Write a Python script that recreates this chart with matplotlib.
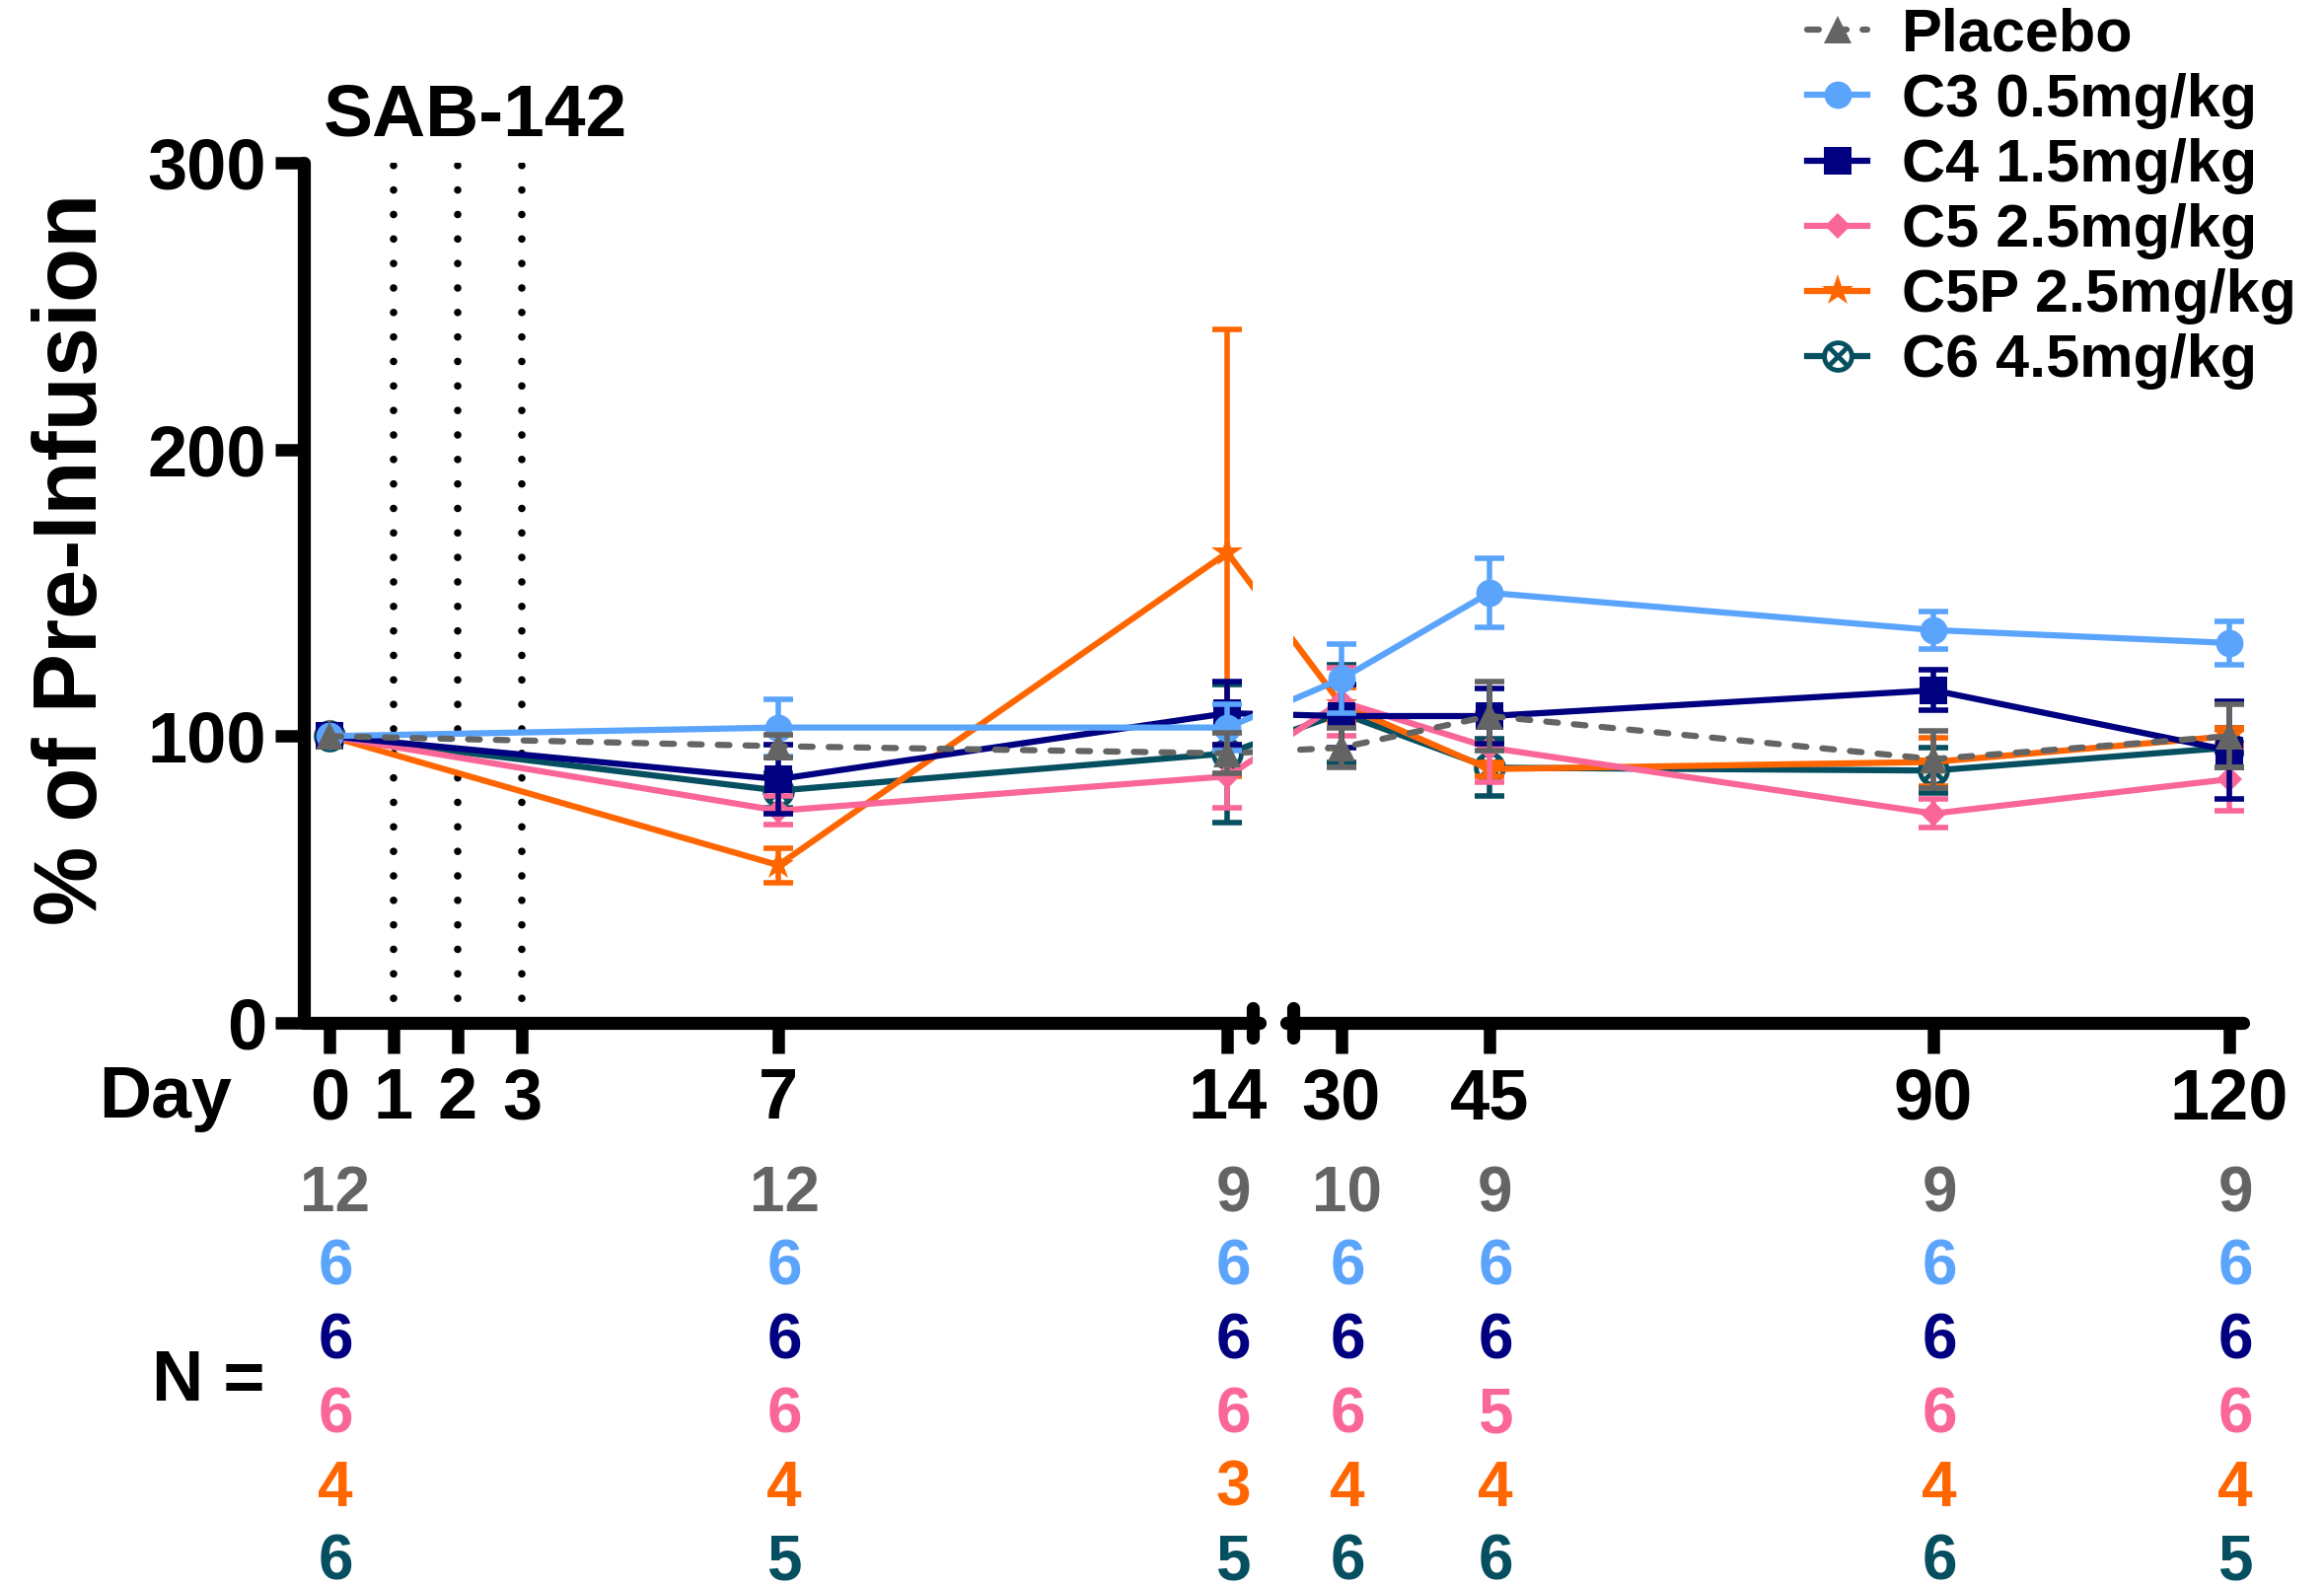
import numpy as np
import matplotlib
matplotlib.use("Agg")
import matplotlib.pyplot as plt
import matplotlib.transforms as mtransforms
from matplotlib.lines import Line2D
from matplotlib.legend_handler import HandlerTuple
from matplotlib.ticker import NullLocator

plt.rcParams["font.family"] = ["Liberation Sans", "DejaVu Sans"]
plt.rcParams["font.weight"] = "bold"

# ---------------------------------------------------------
# data
# ---------------------------------------------------------
days = [0, 7, 14, 30, 45, 90, 120]

placebo_mean = [100, 96.5, 94, 96, 107, 92, 100]
placebo_sem = [0, 4, 7, 7, 12, 10, 11]
c3_mean = [100, 103, 103, 120, 150, 137, 132.5]
c3_sem = [0, 10, 8, 12, 12, 6.5, 7.5]
c4_mean = [100, 85, 108, 107, 107, 116, 95]
c4_sem = [0, 12, 11, 11, 9.5, 7, 17]
c5_mean = [100, 74, 86, 112, 96, 73, 85]
c5_sem = [0, 5, 11, 12, 12, 5, 11]
c5p_mean = [100, 55, 164, 111, 88.5, 91, 100]
c5p_sem = [0, 6, 78, 6, 2.5, 8.5, 3]
c6_mean = [100, 81, 94, 108, 89, 88, 96]
c6_sem = [0, 6, 24, 17, 10, 8, 7]

# number of subjects per group and day
n_placebo = [12, 12, 9, 10, 9, 9, 9]
n_c3 = [6, 6, 6, 6, 6, 6, 6]
n_c4 = [6, 6, 6, 6, 6, 6, 6]
n_c5 = [6, 6, 6, 6, 5, 6, 6]
n_c5p = [4, 4, 3, 4, 4, 4, 4]
n_c6 = [6, 5, 5, 6, 6, 6, 5]

labels = ["Placebo", "C3 0.5mg/kg", "C4 1.5mg/kg", "C5 2.5mg/kg",
          "C5P 2.5mg/kg", "C6 4.5mg/kg"]
day_ticks = [0, 1, 2, 3, 7, 14, 30, 45, 90, 120]
dosing_days = [1, 2, 3]

GRAY = "#646464"
LBLUE = "#5BA4FC"
NAVY = "#000080"
PINK = "#FA6698"
ORANGE = "#FF6600"
TEAL = "#064F60"

LW = 4.5


# ---------------------------------------------------------
# broken day axis: 0-14 wide, 30-120 compressed
# ---------------------------------------------------------
GAP = 1.78      # visual width of the 14 -> 30 jump (in early-day units)
LATE = 0.1538   # one late day = this many early days
_d = [-100, 14, 30, 1000]
_p = [-100, 14, 14 + GAP, 14 + GAP + 970 * LATE]


def fwd(d):
    return np.interp(np.asarray(d, float), _d, _p)


def inv(p):
    return np.interp(np.asarray(p, float), _p, _d)


fig = plt.figure(figsize=(23.56, 16.10), dpi=100)
ax = fig.add_axes([0.1307, 0.3559, 0.8345, 0.5416])
ax.set_xscale("function", functions=(fwd, inv))
ax.set_xlim(-0.4, 121.4)
ax.set_ylim(0, 300)

# dosing days
for d in dosing_days:
    ax.axvline(d, ymin=0, ymax=1, color="black", lw=5.5,
               linestyle=(0, (0.001, 3.25)), dash_capstyle="round", zorder=1)

# ---------------------------------------------------------
# series
# ---------------------------------------------------------
series = [
    # label, mean, sem, color, marker, marker size, linestyle
    (labels[5], c6_mean, c6_sem, TEAL, "o", 20, "-"),
    (labels[4], c5p_mean, c5p_sem, ORANGE, "*", 24, "-"),
    (labels[3], c5_mean, c5_sem, PINK, "D", 13.5, "-"),
    (labels[2], c4_mean, c4_sem, NAVY, "s", 20, "-"),
    (labels[1], c3_mean, c3_sem, LBLUE, "o", 20, "-"),
    (labels[0], placebo_mean, placebo_sem, GRAY, "^", 20, (0, (1.9, 2.6))),
]

handles = {}
for i, (lab, mean, sem, col, mk, ms, ls) in enumerate(series):
    z = 3 + i
    ax.errorbar(days[1:], mean[1:], yerr=sem[1:], fmt="none", ecolor=col,
                elinewidth=4, capsize=11, capthick=4, zorder=z)
    if lab.startswith("C6"):
        ax.plot(days, mean, color=col, lw=LW, marker=mk, ms=ms,
                mfc="white", mec=col, mew=3.5, zorder=z)
        ax.plot(days, mean, linestyle="none", marker="x", ms=13,
                mec=col, mew=3.5, zorder=z)
        handles[lab] = (
            Line2D([], [], color=col, lw=LW, marker=mk, ms=ms, mfc="white",
                   mec=col, mew=3.5),
            Line2D([], [], linestyle="none", marker="x", ms=13, mec=col, mew=3.5),
        )
    else:
        ax.plot(days, mean, color=col, lw=LW, linestyle=ls,
                dash_capstyle="round", marker=mk, ms=ms, mfc=col, mec=col,
                mew=0, zorder=z)
        handles[lab] = Line2D([], [], color=col, lw=LW, linestyle=ls,
                              dash_capstyle="round", marker=mk, ms=ms,
                              mfc=col, mec=col, mew=0)

# white gap where the axis is broken
ax.axvspan(17.55, 23.22, color="white", lw=0, zorder=20)

# ---------------------------------------------------------
# axes styling
# ---------------------------------------------------------
for s in ["top", "right", "bottom"]:
    ax.spines[s].set_visible(False)
ax.spines["left"].set_linewidth(9.5)
ax.spines["left"].set_capstyle("round")

xtr = ax.get_xaxis_transform()
ax.plot([-0.4, 18.52], [0, 0], color="black", lw=9.5, solid_capstyle="round",
        transform=xtr, clip_on=False, zorder=25)
ax.plot([22.25, 121.4], [0, 0], color="black", lw=9.5, solid_capstyle="round",
        transform=xtr, clip_on=False, zorder=25)
for bx in [17.55, 23.22]:
    ax.plot([bx, bx], [-0.017, 0.017], color="black", lw=9.5,
            solid_capstyle="round", transform=xtr, clip_on=False, zorder=26)

ax.set_xticks(day_ticks)
ax.set_xticklabels([str(d) for d in day_ticks])
ax.xaxis.set_minor_locator(NullLocator())
ax.set_yticks([0, 100, 200, 300])
ax.yaxis.set_minor_locator(NullLocator())
ax.tick_params(axis="both", direction="out", width=9, labelsize=52,
               colors="black")
ax.tick_params(axis="x", length=22, pad=10)
ax.tick_params(axis="y", length=21, pad=6)

fig.text(0.0318, 0.6478, "% of Pre-Infusion", rotation=90, fontsize=65,
         ha="center", va="center")
fig.text(0.1392, 0.9149, "SAB-142", fontsize=54, ha="left", va="baseline")
fig.text(0.0424, 0.2963, "Day", fontsize=53, ha="left", va="baseline")
fig.text(0.0654, 0.1180, "N =", fontsize=52, ha="left", va="baseline")

# ---------------------------------------------------------
# N table under the axis
# ---------------------------------------------------------
n_rows = [n_placebo, n_c3, n_c4, n_c5, n_c5p, n_c6]
row_colors = [GRAY, LBLUE, NAVY, PINK, ORANGE, TEAL]
ntr = mtransforms.blended_transform_factory(ax.transData, fig.transFigure) \
    + mtransforms.ScaledTranslation(0.06, 0, fig.dpi_scale_trans)
for r, (vals, col) in enumerate(zip(n_rows, row_colors)):
    y = 0.2370 - r * 0.04630
    for d, n in zip(days, vals):
        ax.text(d, y, str(n), transform=ntr, ha="center", va="baseline",
                fontsize=46, color=col, clip_on=False)

# ---------------------------------------------------------
# legend
# ---------------------------------------------------------
leg_handles = [handles[l] for l in labels]
fig.legend(leg_handles, labels, loc="upper left",
           bbox_to_anchor=(0.7776, 0.9953), frameon=False, fontsize=44,
           handlelength=1.0, handletextpad=0.57, labelspacing=0.15,
           borderpad=0, borderaxespad=0,
           handler_map={tuple: HandlerTuple(ndivide=1)})

fig.savefig("out.png", dpi=100)
